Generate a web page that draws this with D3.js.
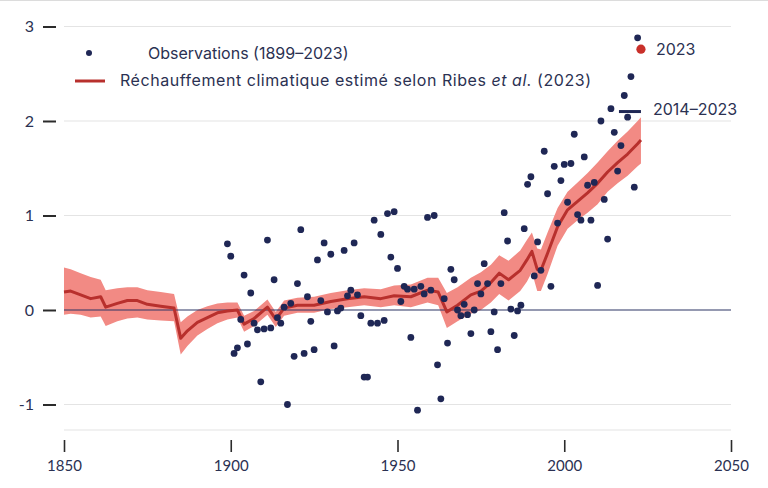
<!DOCTYPE html>
<html lang="fr">
<head>
<meta charset="UTF-8">
<title>Réchauffement climatique estimé</title>
<script src="https://d3js.org/d3.v7.min.js"></script>
<style>
  body { margin: 0; background: #fff; }
  svg text { font-family: Lato, "Open Sans", sans-serif; fill: #2b3152; }
  svg text.lbl { font-family: Inter, "Open Sans", sans-serif; font-weight: 400; }
</style>
</head>
<body>
<script>
// observations, one value per year from 1899 to 2023
const obsStart = 1899;
const obsValues = [
  0.70, 0.57, -0.46, -0.40, -0.10, 0.37, -0.36, 0.18, -0.14, -0.21,   // 1899-1908
  -0.76, -0.20, 0.74, -0.19, 0.32, -0.08, -0.14, 0.03, -1.00, 0.07,   // 1909-1918
  -0.49, 0.28, 0.85, -0.46, 0.14, -0.12, -0.42, 0.53, 0.10, 0.71,     // 1919-1928
  -0.02, 0.59, -0.38, -0.01, 0.02, 0.63, 0.15, 0.21, 0.71, 0.16,      // 1929-1938
  -0.06, -0.71, -0.71, -0.14, 0.95, -0.14, 0.80, -0.11, 1.02, 0.56,   // 1939-1948
  1.04, 0.44, 0.09, 0.25, 0.22, -0.29, 0.22, -1.06, 0.25, 0.17,       // 1949-1958
  0.98, 0.21, 1.00, -0.58, -0.94, 0.12, -0.35, 0.43, 0.32, 0.00,      // 1959-1968
  -0.06, 0.06, -0.05, -0.25, 0.00, 0.28, 0.17, 0.49, 0.28, -0.23,     // 1969-1978
  -0.02, -0.42, 0.28, 1.03, 0.73, 0.01, -0.27, -0.01, 0.05, 0.86,     // 1979-1988
  1.33, 1.41, 0.36, 0.72, 0.42, 1.68, 1.23, 0.25, 1.52, 0.92,         // 1989-1998
  1.37, 1.54, 1.14, 1.55, 1.86, 1.01, 0.95, 1.62, 1.32, 0.95,         // 1999-2008
  1.35, 0.26, 2.00, 1.17, 0.75, 2.13, 1.88, 1.47, 1.74, 2.27,         // 2009-2018
  2.04, 2.47, 1.30, 2.88, 2.76                                        // 2019-2023
];
const highlightYear = 2023;

// estimated warming (Ribes et al. 2023): central value and band
const trendYears = [1850, 1852, 1855, 1858, 1861, 1862.5, 1866, 1869, 1872, 1875, 1879, 1883,
  1885, 1887, 1890, 1893, 1896, 1899, 1902, 1904, 1907, 1911, 1913.5, 1916, 1920, 1925, 1930,
  1935, 1940, 1945, 1949, 1954, 1959, 1962.2, 1964.8, 1968, 1972, 1975, 1978, 1980.5, 1983.3,
  1986.8, 1988.8, 1990.3, 1991.9, 1993, 1995, 1998, 2001, 2004, 2007, 2010, 2013, 2016, 2019,
  2022, 2023];
const trendMid = [0.19, 0.20, 0.16, 0.12, 0.14, 0.03, 0.07, 0.10, 0.10, 0.06, 0.04, 0.02,
  -0.30, -0.22, -0.13, -0.08, -0.03, -0.01, 0.00, -0.15, -0.09, 0.03, -0.10, 0.02, 0.05, 0.05, 0.09,
  0.12, 0.14, 0.12, 0.15, 0.14, 0.21, 0.19, -0.02, 0.05, 0.16, 0.20, 0.29, 0.39, 0.32,
  0.42, 0.53, 0.62, 0.43, 0.42, 0.60, 0.88, 1.06, 1.15, 1.24, 1.34, 1.46, 1.56, 1.65,
  1.76, 1.80];
const trendLow = [-0.05, -0.04, -0.05, -0.08, -0.07, -0.17, -0.12, -0.09, -0.08, -0.10, -0.11, -0.12,
  -0.47, -0.38, -0.27, -0.20, -0.14, -0.10, -0.08, -0.23, -0.17, -0.05, -0.18, -0.06, -0.03, -0.03, 0.01,
  0.03, 0.05, 0.03, 0.05, 0.03, 0.08, 0.05, -0.19, -0.12, -0.04, 0.00, 0.08, 0.17, 0.10,
  0.20, 0.30, 0.40, 0.20, 0.20, 0.38, 0.68, 0.86, 0.95, 1.03, 1.12, 1.25, 1.34, 1.42,
  1.52, 1.55];
const trendHigh = [0.45, 0.43, 0.39, 0.35, 0.32, 0.21, 0.23, 0.24, 0.24, 0.21, 0.19, 0.17,
  -0.13, -0.07, 0.00, 0.04, 0.07, 0.08, 0.08, -0.06, -0.01, 0.11, -0.02, 0.10, 0.13, 0.14, 0.18,
  0.21, 0.23, 0.22, 0.26, 0.27, 0.34, 0.34, 0.18, 0.24, 0.34, 0.40, 0.48, 0.58, 0.52,
  0.63, 0.74, 0.82, 0.65, 0.64, 0.82, 1.08, 1.25, 1.35, 1.45, 1.56, 1.68, 1.79, 1.89,
  2.00, 2.04];

// mean of the last decade
const decadeLabel = "2014–2023";
const decadeMean = 2.10;

const xTicks = [1850, 1900, 1950, 2000, 2050];
const yTicks = [-1, 0, 1, 2, 3];

const navy = "#1f2755";
const red = "#b8302d";
const bandColor = "#f28a84";

const W = 768, H = 488;
const svg = d3.select("body").append("svg")
  .attr("width", W).attr("height", H);

const x = d3.scaleLinear().domain([1850, 2050]).range([64, 731]);
const y = d3.scaleLinear().domain([-1.27, 3]).range([430, 26.5]);

// thin line at the very top (edge of cropped title block)
svg.append("line").attr("x1", 0).attr("x2", W).attr("y1", 0.5).attr("y2", 0.5)
  .attr("stroke", "#dcdcdc");

// gridlines
const grid = [...yTicks.filter(v => v !== 0), y.domain()[0]];
svg.append("g").selectAll("line").data(grid).join("line")
  .attr("x1", x(1850)).attr("x2", x(2050))
  .attr("y1", d => y(d)).attr("y2", d => y(d))
  .attr("stroke", "#e4e4e4").attr("stroke-width", 1.2);

// y axis: labels and dashes, no domain line
const yAxis = svg.append("g").attr("transform", "translate(56,0)")
  .call(d3.axisLeft(y).tickValues(yTicks).tickSize(13).tickPadding(9).tickFormat(d => d < 0 ? "-" + Math.abs(d) : d));
yAxis.select(".domain").remove();
yAxis.selectAll(".tick line").attr("stroke", "#2b2b2b").attr("stroke-width", 2);
yAxis.selectAll(".tick text").style("font-size", "16px").attr("fill", "#2b3152");

// x axis
const xAxis = svg.append("g").attr("transform", "translate(0,440)")
  .call(d3.axisBottom(x).tickValues(xTicks).tickSize(12).tickPadding(8).tickFormat(d3.format("d")));
xAxis.select(".domain").remove();
xAxis.selectAll(".tick line").attr("stroke", "#2b2b2b").attr("stroke-width", 1.6);
xAxis.selectAll(".tick text").style("font-size", "15px").attr("fill", "#2b3152");

// uncertainty band
const trend = trendYears.map((t, i) => ({year: t, mid: trendMid[i], lo: trendLow[i], hi: trendHigh[i]}));
svg.append("path").datum(trend)
  .attr("fill", bandColor)
  .attr("d", d3.area().x(d => x(d.year)).y0(d => y(d.lo)).y1(d => y(d.hi)));

// zero line
svg.append("line")
  .attr("x1", x(1850)).attr("x2", x(2050)).attr("y1", y(0)).attr("y2", y(0))
  .attr("stroke", "#2d3564").attr("stroke-width", 1.2);

// central estimate
svg.append("path").datum(trend)
  .attr("fill", "none").attr("stroke", red).attr("stroke-width", 3)
  .attr("stroke-linejoin", "round")
  .attr("d", d3.line().x(d => x(d.year)).y(d => y(d.mid)));

// observations
const obs = obsValues.map((v, i) => ({year: obsStart + i, value: v}));
svg.append("g").selectAll("circle").data(obs).join("circle")
  .attr("cx", d => x(d.year)).attr("cy", d => y(d.value))
  .attr("r", d => d.year === highlightYear ? 4.6 : 3.4)
  .attr("fill", d => d.year === highlightYear ? "#c9302a" : navy);

// label for 2023
const last = obs[obs.length - 1];
svg.append("text").attr("class", "lbl")
  .attr("x", x(last.year) + 15).attr("y", y(last.value))
  .attr("dy", "0.35em").style("font-size", "16px").attr("fill", "#c9302a")
  .text(last.year);

// decade mean marker
svg.append("line")
  .attr("x1", x(highlightYear) - 22).attr("x2", x(highlightYear))
  .attr("y1", y(decadeMean)).attr("y2", y(decadeMean))
  .attr("stroke", navy).attr("stroke-width", 3);
svg.append("text").attr("class", "lbl")
  .attr("x", x(highlightYear) + 12).attr("y", y(decadeMean) - 2)
  .attr("dy", "0.35em").style("font-size", "16px").attr("fill", "#2b3152")
  .text(decadeLabel);

// legend
const legend = svg.append("g");
legend.append("circle").attr("cx", 89).attr("cy", 53).attr("r", 3).attr("fill", navy);
legend.append("text").attr("class", "lbl").attr("x", 148).attr("y", 53).attr("dy", "0.35em")
  .style("font-size", "16px").text("Observations (1899–2023)");
legend.append("line").attr("x1", 75).attr("x2", 105).attr("y1", 81).attr("y2", 81)
  .attr("stroke", red).attr("stroke-width", 3);
const lt = legend.append("text").attr("class", "lbl").attr("x", 120).attr("y", 80).attr("dy", "0.35em")
  .style("font-size", "16px").style("letter-spacing", "0.55px");
lt.append("tspan").text("Réchauffement climatique estimé selon Ribes ");
lt.append("tspan").style("font-style", "italic").text("et al.");
lt.append("tspan").text(" (2023)");
</script>
</body>
</html>
